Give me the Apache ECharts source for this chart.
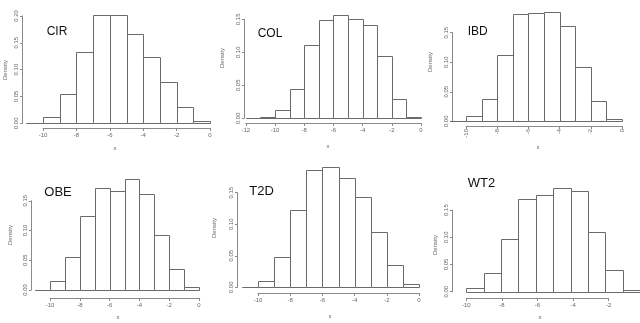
<!DOCTYPE html>
<html>
<head>
<meta charset="utf-8">
<script src="https://cdn.jsdelivr.net/npm/echarts@6/dist/echarts.min.js"></script>
<style>
html, body { margin: 0; padding: 0; background: #fff; }
#main { width: 640px; height: 323px; }
</style>
</head>
<body>
<div id="main"></div>
<script>
// panel names
var panelNames = ['CIR', 'COL', 'IBD', 'OBE', 'T2D', 'WT2'];

// first break of each histogram (bins are 1 wide, up to 0)
var binStart = [-11, -12, -11, -11, -11, -10];

// densities per bin
var cirDensity = [0.001, 0.011, 0.054, 0.132, 0.201, 0.201, 0.166, 0.124, 0.076, 0.030, 0.004];
var colDensity = [0.0005, 0.0015, 0.014, 0.049, 0.124, 0.166, 0.174, 0.168, 0.157, 0.105, 0.032, 0.0015];
var ibdDensity = [0.0005, 0.009, 0.038, 0.112, 0.182, 0.183, 0.185, 0.162, 0.092, 0.034, 0.0035];
var obeDensity = [0.0005, 0.015, 0.056, 0.125, 0.171, 0.167, 0.187, 0.161, 0.093, 0.035, 0.0045];
var t2dDensity = [0.0005, 0.010, 0.048, 0.123, 0.186, 0.191, 0.174, 0.143, 0.088, 0.035, 0.005];
var wt2Density = [0.006, 0.034, 0.096, 0.170, 0.177, 0.191, 0.186, 0.109, 0.039, 0.0025];

var allDensity = [cirDensity, colDensity, ibdDensity, obeDensity, t2dDensity, wt2Density];

// x tick range and top y tick per panel
var xTickMin = [-10, -12, -10, -10, -10, -10];
var xTickMax = [0, 0, 0, 0, 0, -2];
var yTickMax = [0.20, 0.15, 0.15, 0.15, 0.15, 0.15];

// layout in pixels (where x=0 sits, px per unit, baseline, px per density unit ...)
var layout = [
    {xz: 210, ux: 16.7, y0: 123.3, uy: 537, axY: 128, axX: 22, rot: 0,
     title: [46.7, 31.5, 12], dens: [5, 70], xlab: [115, 148]},
    {xz: 421, ux: 14.6, y0: 118.3, uy: 660, axY: 123, axX: 244, rot: 0,
     title: [257.7, 33.3, 12], dens: [222, 58], xlab: [328, 146]},
    {xz: 622, ux: 15.6, y0: 121.3, uy: 591, axY: 126, axX: 452, rot: 90,
     title: [467.7, 31.7, 12], dens: [430, 62], xlab: [538, 147]},
    {xz: 199, ux: 14.9, y0: 290, uy: 595, axY: 298, axX: 31, rot: 0,
     title: [44.3, 192.5, 13], dens: [10, 235], xlab: [118, 317]},
    {xz: 419, ux: 16.1, y0: 287.3, uy: 631, axY: 293, axX: 237, rot: 0,
     title: [249.3, 191, 13], dens: [214, 228], xlab: [330, 316]},
    {xz: 644.3, ux: 17.8, y0: 291.7, uy: 544, axY: 298, axX: 452, rot: 0,
     title: [467.7, 183, 13], dens: [435, 245], xlab: [540, 317]}
];

function renderHist(params, api) {
    var lo = api.value(0);
    var hi = api.value(1);
    var d = api.value(2);
    var p1 = api.coord([lo, d]);
    var p2 = api.coord([hi, 0]);
    return {
        type: 'rect',
        shape: {
            x: Math.round(p1[0]) + 0.5,
            y: Math.round(p1[1]) + 0.5,
            width: Math.round(p2[0]) - Math.round(p1[0]),
            height: Math.round(p2[1]) - Math.round(p1[1])
        },
        style: {fill: '#fff', stroke: '#6a6a6a', lineWidth: 1}
    };
}

function buildOption() {
    var W = 640, H = 323;
    var grid = [], xAxis = [], yAxis = [], series = [], graphic = [];

    for (var i = 0; i < panelNames.length; i++) {
        var L = layout[i];
        var dens = allDensity[i];
        var bins = [];
        for (var k = 0; k < dens.length; k++) {
            bins.push([binStart[i] + k, binStart[i] + k + 1, dens[k]]);
        }

        // data grid (hidden axes)
        var gData = grid.length;
        grid.push({
            left: L.xz + binStart[i] * L.ux,
            right: W - L.xz,
            top: L.y0 - 0.2 * L.uy,
            bottom: H - L.y0
        });
        xAxis.push({gridIndex: gData, type: 'value', min: binStart[i], max: 0, show: false});
        yAxis.push({gridIndex: gData, type: 'value', min: 0, max: 0.2, show: false});
        series.push({
            type: 'custom',
            xAxisIndex: gData,
            yAxisIndex: gData,
            renderItem: renderHist,
            encode: {x: [0, 1], y: 2},
            data: bins,
            silent: true
        });

        // axes grid (R style detached axes)
        var gAx = grid.length;
        var left = L.xz + xTickMin[i] * L.ux;
        grid.push({
            left: left,
            right: W - (L.xz + xTickMax[i] * L.ux),
            top: L.y0 - yTickMax[i] * L.uy,
            bottom: H - L.y0
        });
        xAxis.push({
            gridIndex: gAx, type: 'value',
            min: xTickMin[i], max: xTickMax[i], interval: 2,
            offset: L.axY - L.y0,
            splitLine: {show: false},
            axisLine: {onZero: false, lineStyle: {color: '#8a8a8a', width: 1}},
            axisTick: {length: 3, lineStyle: {color: '#8a8a8a'}},
            axisLabel: {
                fontSize: 6, color: '#666', margin: L.rot ? 3 : 4,
                rotate: L.rot, fontFamily: 'Liberation Sans'
            }
        });
        yAxis.push({
            gridIndex: gAx, type: 'value',
            min: 0, max: yTickMax[i], interval: 0.05,
            offset: left - L.axX,
            splitLine: {show: false},
            axisLine: {show: true, onZero: false, lineStyle: {color: '#8a8a8a', width: 1}},
            axisTick: {show: true, length: 2, lineStyle: {color: '#8a8a8a'}},
            axisLabel: {
                fontSize: 6, color: '#666', margin: 3, rotate: 90,
                fontFamily: 'Liberation Sans',
                formatter: function (v) { return v.toFixed(2); }
            }
        });

        // panel label
        graphic.push({
            type: 'text', x: L.title[0], y: L.title[1],
            style: {
                text: panelNames[i], fill: '#111',
                font: L.title[2] + 'px "Liberation Sans", Arial, sans-serif',
                verticalAlign: 'middle', align: 'left'
            }
        });
        // Density
        graphic.push({
            type: 'text', x: L.dens[0], y: L.dens[1], rotation: Math.PI / 2,
            style: {
                text: 'Density', fill: '#666',
                font: '6px "Liberation Sans", Arial, sans-serif',
                verticalAlign: 'middle', align: 'center'
            }
        });
        // x
        graphic.push({
            type: 'text', x: L.xlab[0], y: L.xlab[1],
            style: {
                text: 'x', fill: '#666',
                font: '6px "Liberation Sans", Arial, sans-serif',
                verticalAlign: 'middle', align: 'center'
            }
        });
    }

    return {
        backgroundColor: '#fff',
        animation: false,
        grid: grid,
        xAxis: xAxis,
        yAxis: yAxis,
        series: series,
        graphic: graphic
    };
}

var myChart = echarts.init(document.getElementById('main'), null, {renderer: 'canvas'});
myChart.setOption(buildOption());
</script>
</body>
</html>
